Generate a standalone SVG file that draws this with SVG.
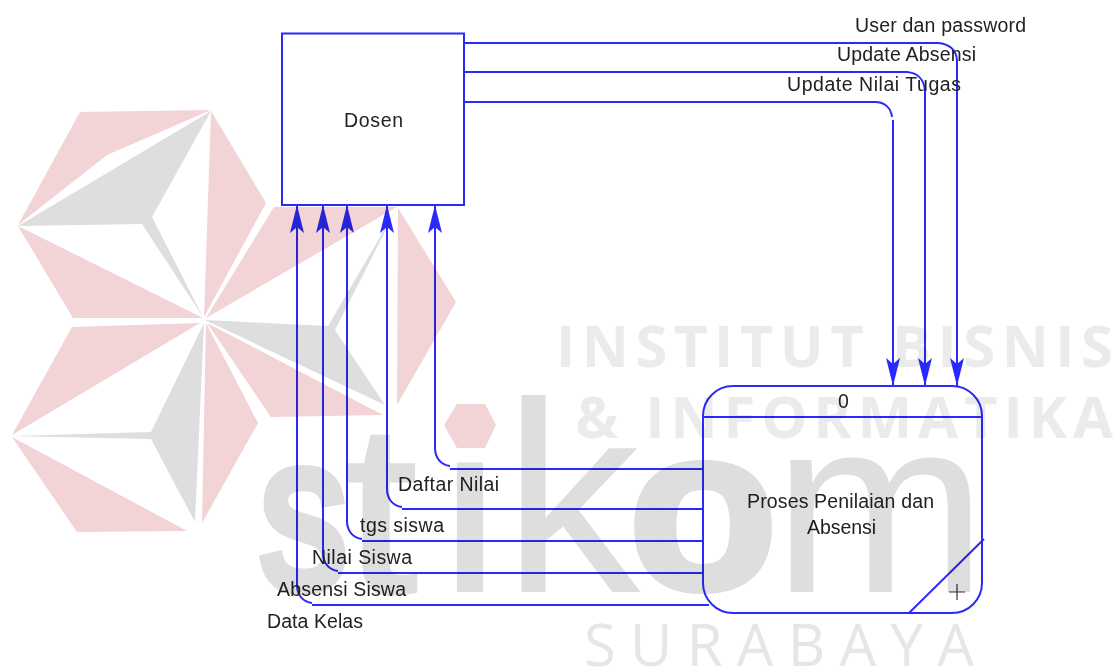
<svg xmlns="http://www.w3.org/2000/svg" width="1115" height="669" viewBox="0 0 1115 669">
<style>
.p{fill:#f2d3d6}.g{fill:#dedede}
.wm{font-family:"Open Sans","Liberation Sans",sans-serif;font-size:58px}
.logo{font-family:"Liberation Sans",Arial,sans-serif;font-size:250px;fill:#dedede;stroke:#dedede}
.diagram{mix-blend-mode:multiply}
.ln{fill:none;stroke:#2a2aff;stroke-width:2}
.a{marker-end:url(#ah)}
text.t{font-family:"Liberation Sans",Arial,sans-serif;font-size:19.500px;fill:#222}
</style>
<defs>
<marker id="ah" markerUnits="userSpaceOnUse" markerWidth="30" markerHeight="18" refX="29" refY="9" orient="auto"><path d="M29 9L1 2L7 9L1 16Z" fill="#2a2aff"/></marker>
</defs>
<rect width="1115" height="669" fill="#fff"/>
<g id="watermark">
<polygon class="p" points="80,112 211,110 107,155 18,225"/>
<polygon class="g" points="211,111 152,217 203,317 142,224 18,226"/>
<polygon class="p" points="211,111 266,203 204,317"/>
<polygon class="p" points="18,226 203,318 73,318"/>
<polygon class="p" points="274,207 397,207 206,318"/>
<polygon class="g" points="205,320 328,326 397,208 335,330 385,405"/>
<polygon class="p" points="207,323 383,415 271,417"/>
<polygon class="p" points="398,208 456,302 397,405"/>
<polygon class="p" points="200,323 72,327 12,435"/>
<polygon class="g" points="204,323 195,522 151,439 12,436 151,432"/>
<polygon class="p" points="206,323 258,423 202,523"/>
<polygon class="p" points="12,437 187,531 77,532"/>
<text class="logo" y="592" stroke-width="0"><tspan x="260" y="587" font-size="215" textLength="87" lengthAdjust="spacingAndGlyphs" stroke-width="12">s</tspan><tspan x="345" y="592" font-size="240" textLength="72" lengthAdjust="spacingAndGlyphs" stroke-width="4">t</tspan><tspan x="437" y="592" font-size="245" textLength="66" lengthAdjust="spacingAndGlyphs">i</tspan><tspan x="503" y="592" font-size="272" textLength="137" lengthAdjust="spacingAndGlyphs">k</tspan><tspan x="633" y="584" font-size="215" textLength="140" lengthAdjust="spacingAndGlyphs" stroke-width="16">o</tspan><tspan x="773" y="592" font-size="250" textLength="214" lengthAdjust="spacingAndGlyphs">m</tspan></text>
<polygon class="p" points="457,404 485,404 496,425 485,448 457,448 444,425"/>
<text class="wm" x="556" y="367" font-weight="700" fill="#ebebeb" textLength="557" lengthAdjust="spacing">INSTITUT BISNIS</text>
<text class="wm" x="575" y="438" font-weight="700" fill="#ebebeb" textLength="538" lengthAdjust="spacing">&amp; INFORMATIKA</text>
<text class="wm" x="584" y="666" font-weight="400" fill="#e6e6e6" textLength="390" lengthAdjust="spacing">SURABAYA</text>
</g>
<g class="diagram">
<g id="connectors">
<path class="ln a" d="M464 43H938C950 44 956 50 957 60V386"/>
<path class="ln a" d="M464 72H907C918 73 924 80 925 90V386"/>
<path class="ln" d="M464 102H875C885 102 891 108 892 117"/>
<path class="ln a" d="M893 120V386"/>
<path class="ln" d="M703 469H450"/>
<path class="ln a" d="M450 466C441 465 435 458 435 448V205"/>
<path class="ln" d="M703 509H402"/>
<path class="ln a" d="M402 507C393 506 387 499 387 489V205"/>
<path class="ln" d="M703 541H362"/>
<path class="ln a" d="M362 539C353 538 347 531 347 521V205"/>
<path class="ln" d="M703 573H338"/>
<path class="ln a" d="M338 571C329 570 323 563 323 553V205"/>
<path class="ln" d="M709 605H312"/>
<path class="ln a" d="M312 603C303 602 297 595 297 585V205"/>
<text class="t" x="855" y="32" textLength="171">User dan password</text>
<text class="t" x="837" y="61" textLength="139">Update Absensi</text>
<text class="t" x="787" y="91" textLength="174">Update Nilai Tugas</text>
<text class="t" x="398" y="491" textLength="101">Daftar Nilai</text>
<text class="t" x="360" y="532" textLength="84">tgs siswa</text>
<text class="t" x="312" y="564" textLength="100">Nilai Siswa</text>
<text class="t" x="277" y="596" textLength="129">Absensi Siswa</text>
<text class="t" x="267" y="628" textLength="96">Data Kelas</text>
</g>
<g id="dosen">
<rect class="ln" x="282" y="33.500" width="182" height="171.500"/>
<text class="t" x="344" y="127" textLength="59">Dosen</text>
</g>
<g id="proses">
<rect class="ln" x="703" y="386" width="279" height="227" rx="30" ry="30"/>
<path class="ln" d="M703 417H982M909 613L984 539"/>
<path d="M949 592H965M957 584V600" fill="none" stroke="#333" stroke-width="1.2"/>
<text class="t" x="838" y="408" textLength="11">0</text>
<text class="t" x="747" y="508" textLength="187">Proses Penilaian dan</text>
<text class="t" x="807" y="534" textLength="69">Absensi</text>
</g>
</g>
</svg>
